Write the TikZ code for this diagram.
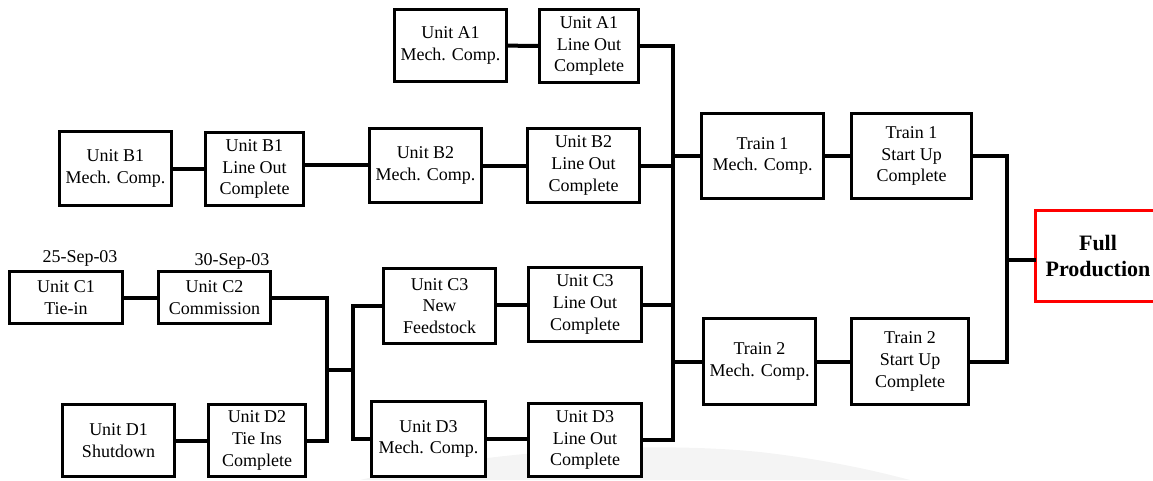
\documentclass[tikz,border=0pt]{standalone}
\usepackage{fontspec}
\setmainfont{Liberation Serif}
\newfontfamily\boxfont{Liberation Serif}
\usetikzlibrary{calc}
\begin{document}
\begin{tikzpicture}[x=0.75pt,y=-0.75pt,
  box/.style={draw=black,line width=2.4pt,fill=white,inner sep=0pt,align=center,
    font=\boxfont\fontsize{13.5}{16.2}\selectfont},
  goal/.style={box,draw=red,font=\boxfont\fontsize{16.5}{18.8}\selectfont\bfseries},
  wire/.style={line width=3pt,line cap=rect},
  datelbl/.style={inner sep=0pt,font=\boxfont\fontsize{13.5}{16.2}\selectfont}]
\useasboundingbox (0,0) rectangle (1153,480);

% soft grey swoosh along the bottom edge
\fill[gray!9] (360,480) .. controls (480,452) and (640,440) .. (760,452)
  .. controls (830,460) and (880,472) .. (910,480) -- cycle;

% box given by its outer corners: name, x1, y1, x2, y2, text
\newcommand{\bx}[7][box]{%
  \node[#1,minimum width={(#5-#3-3)*0.75pt},minimum height={(#6-#4-3)*0.75pt}]
    (#2) at ({(#3+#5)/2},{(#4+#6)/2}) {#7};}

% unit A
\bx{A1M}{393}{8}{508}{83}{Unit A1\\Mech. Comp.}
\bx{A1L}{538}{8}{640}{84}{Unit A1\\Line Out\\Complete}
% unit B
\bx{B1M}{58}{130}{173}{207}{Unit B1\\Mech. Comp.}
\bx{B1L}{204}{131}{305}{207}{Unit B1\\Line Out\\Complete}
\bx{B2M}{368}{127}{483}{204}{Unit B2\\Mech. Comp.}
\bx{B2L}{526}{127}{641}{204}{Unit B2\\Line Out\\Complete}
% unit C
\bx{C1}{8}{270}{124}{325}{Unit C1\\Tie-in}
\bx{C2}{157}{270}{272}{325}{Unit C2\\Commission}
\bx{C3N}{382}{267}{497}{345}{Unit C3\\New\\Feedstock}
\bx{C3L}{527}{266}{643}{343}{Unit C3\\Line Out\\Complete}
% unit D
\bx{D1}{61}{403}{176}{478}{Unit D1\\Shutdown}
\bx{D2}{207}{403}{307}{478}{Unit D2\\Tie Ins\\Complete}
\bx{D3M}{370}{400}{487}{478}{Unit D3\\Mech. Comp.}
\bx{D3L}{527}{402}{643}{478}{Unit D3\\Line Out\\Complete}
% trains
\bx{T1M}{700}{112}{825}{200}{Train 1\\Mech. Comp.}
\bx{T1S}{850}{112}{973}{200}{Train 1\\Start Up\\Complete}
\bx{T2M}{702}{317}{817}{406}{Train 2\\Mech. Comp.}
\bx{T2S}{850}{317}{970}{406}{Train 2\\Start Up\\Complete}
% final milestone
\bx[goal]{FP}{1034}{209}{1162}{303}{Full\\Production}

% dates
\node[datelbl] (dC1) at (80,258) {25-Sep-03};
\node[datelbl] (dC2) at (232,261) {30-Sep-03};

% bus lines
\coordinate (busA) at (673,0);
\coordinate (busR) at (1007,0);
\coordinate (busL) at (327,0);
\coordinate (busM) at (353,0);
\coordinate (jL) at (327,370);
\coordinate (jM) at (353,370);

% chains
\draw[wire] (A1M) -- (A1L);
\draw[wire] (B1M.east) -- (B1M.east -| B1L.west);
\draw[wire] (B2M.west |- 0,165) -- (B1L.east |- 0,165);
\draw[wire] (B2M) -- (B2L);
\draw[wire] (C1) -- (C2);
\draw[wire] (C3L.west) -- (C3L.west -| C3N.east);
\draw[wire] (D1.east) -- (D1.east -| D2.west);
\draw[wire] (D3M.east) -- (D3M.east -| D3L.west);
\draw[wire] (T1M) -- (T1S);
\draw[wire] (T2M) -- (T2S);

% left merge
\draw[wire] (C2.east) -| (busL |- D2.east) -- (D2.east);
\draw[wire] (C3N.west) -| (busM |- D3M.west) -- (D3M.west);
\draw[wire] (jL) -- (jM);

% main bus
\draw[wire] (A1L.east) -| (busA |- D3L.east) -- (D3L.east);
\draw[wire] (B2L.east) -- (busA |- B2L.east);
\draw[wire] (C3L.east) -- (busA |- C3L.east);
\draw[wire] (busA |- T1M.west) -- (T1M.west);
\draw[wire] (busA |- T2M.west) -- (T2M.west);

% right merge
\draw[wire] (T1S.east) -| (busR |- T2S.east) -- (T2S.east);
\draw[wire] ($(busR |- FP.west)+(0,4)$) -- ($(FP.west)+(0,4)$);
\end{tikzpicture}
\end{document}
